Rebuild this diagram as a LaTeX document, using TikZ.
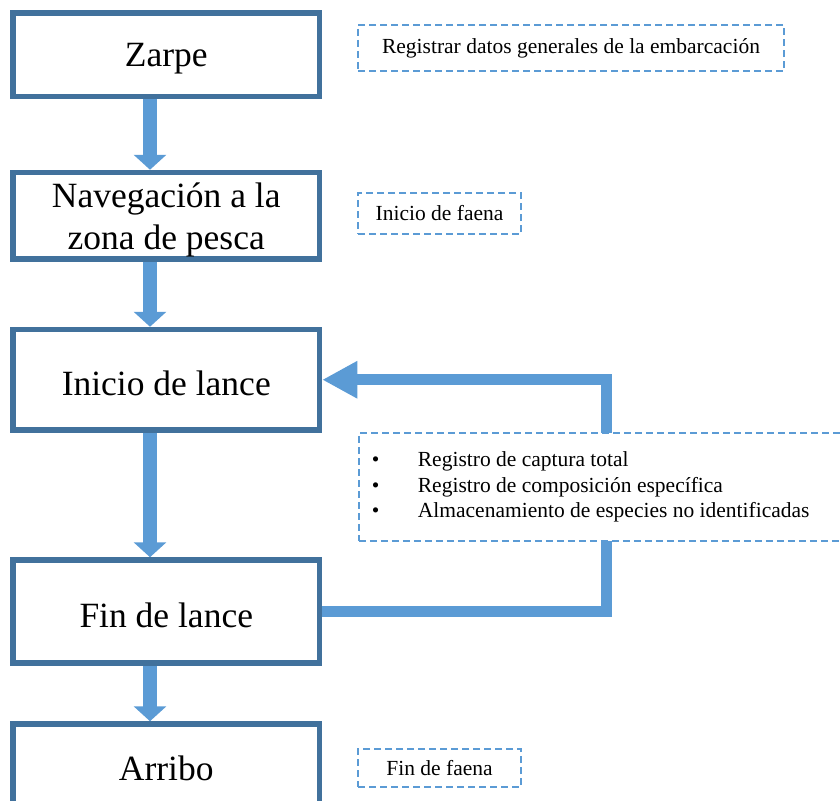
\documentclass[tikz,border=0pt]{standalone}
\usepackage{fontspec}
\setmainfont{Liberation Serif}
\usetikzlibrary{arrows.meta}
\definecolor{boxblue}{HTML}{41719C}
\definecolor{lightblue}{HTML}{5B9BD5}
\pgfdeclarelayer{background}
\pgfsetlayers{background,main}
\begin{document}
\begin{tikzpicture}[x=1pt,y=-1pt,
  mainbox/.style={draw=boxblue, line width=5.5pt, fill=white, minimum width=306.5pt,
    inner sep=0pt},
  boxtext/.style={font=\fontsize{35.5}{42}\selectfont, align=center, yshift=-4pt},
  dbox/.style={draw=lightblue, line width=1.8pt, dash pattern=on 7pt off 4pt,
    fill=white, inner sep=0pt, font=\fontsize{21.5}{25.5}\selectfont},
  blockarrow/.style={draw=lightblue, line width=14pt,
    -{Triangle[length=15pt,width=32pt]}},
  feedback/.style={draw=lightblue, line width=11pt, line join=miter,
    -{Triangle[length=35pt,width=35pt]}}
]
\useasboundingbox (0,0) rectangle (840,800);

\coordinate (ax) at (150,0);
\coordinate (loopc) at (606,379.75);

% process boxes
\node[mainbox, minimum height=83.5pt, label={[boxtext]center:Zarpe}] (zarpe) at (166.25,54.75) {};
\node[mainbox, minimum height=86.5pt, label={[boxtext]center:Navegación a la\\zona de pesca}] (nav) at (166.25,215.75) {};
\node[mainbox, minimum height=100.5pt, label={[boxtext]center:Inicio de lance}] (inicio) at (166.25,379.75) {};
\node[mainbox, minimum height=103pt, label={[boxtext]center:Fin de lance}] (fin) at (166.25,611.5) {};
\node[mainbox, minimum height=88pt, label={[boxtext, yshift=4pt]center:Arribo}] (arribo) at (166.25,768) {};

% connectors behind the boxes
\begin{pgfonlayer}{background}
\draw[blockarrow] (zarpe.south -| ax) -- (nav.north -| ax);
\draw[blockarrow] (nav.south -| ax) -- (inicio.north -| ax);
\draw[blockarrow] (inicio.south -| ax) -- (fin.north -| ax);
\draw[blockarrow] (fin.south -| ax) -- (arribo.north -| ax);
\draw[feedback] (fin.east) -| (loopc) -- (inicio.east);
\end{pgfonlayer}

% dashed note boxes
\node[dbox, minimum width=426pt, minimum height=46pt] (n1) at (571,48)
  {Registrar datos generales de la embarcación};
\node[dbox, minimum width=163pt, minimum height=41pt] (n2) at (439.5,213.5)
  {Inicio de faena};
\node[dbox, anchor=west, minimum height=108pt, text width=474pt, inner xsep=13pt,
  align=flush left] (n3) at (358,487)
  {\makebox[46pt][l]{\textbullet}Registro de captura total\\
   \makebox[46pt][l]{\textbullet}Registro de composición específica\\
   \makebox[46pt][l]{\textbullet}Almacenamiento de especies no identificadas};
\node[dbox, minimum width=163pt, minimum height=38pt] (n4) at (439.5,768)
  {Fin de faena};
\end{tikzpicture}
\end{document}
